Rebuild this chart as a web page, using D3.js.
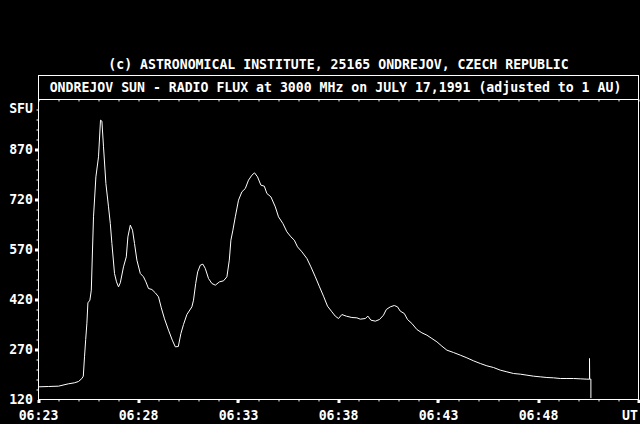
<!DOCTYPE html>
<meta charset='utf-8'>
<style>
    html, body {
        margin: 0;
        background: black;
    }

    svg text {
        fill: white;
        font-family: 'DejaVu Sans Mono', 'Liberation Mono', monospace;
        font-weight: bold;
        font-size: 13.2px;
    }

    .axis path, .axis line {
        stroke: white;
    }
</style>
<title>Ondrejov Sun - Radio Flux 3000 MHz</title>
<body>

<script src='https://d3js.org/d3.v7.min.js'></script>
<script>

	// time in minutes after 06:00 UT, flux in SFU
	let minutes = [
		23.00, 23.49, 24.00, 24.49, 24.79, 25.00, 25.17, 25.24, 25.30, 25.36,
		25.42, 25.47, 25.57, 25.64, 25.75, 25.87, 26.00, 26.10, 26.17, 26.25,
		26.37, 26.50, 26.59, 26.67, 26.80, 26.90, 27.00, 27.09, 27.25, 27.39,
		27.47, 27.59, 27.70, 27.80, 27.92, 28.09, 28.25, 28.37, 28.50, 28.67,
		28.84, 29.00, 29.14, 29.30, 29.50, 29.69, 29.84, 29.99, 30.12, 30.25,
		30.42, 30.67, 30.75, 30.86, 30.96, 31.09, 31.22, 31.34, 31.50, 31.67,
		31.84, 32.05, 32.25, 32.42, 32.54, 32.62, 32.72, 32.84, 33.00, 33.17,
		33.34, 33.50, 33.67, 33.80, 33.95, 34.12, 34.29, 34.42, 34.62, 34.84,
		35.00, 35.22, 35.42, 35.62, 35.79, 35.95, 36.17, 36.42, 36.62, 36.84,
		37.05, 37.25, 37.45, 37.67, 37.84, 38.00, 38.17, 38.39, 38.67, 38.92,
		39.09, 39.34, 39.47, 39.62, 39.84, 40.05, 40.25, 40.39, 40.59, 40.79,
		40.95, 41.09, 41.29, 41.45, 41.67, 41.92, 42.17, 42.42, 42.67, 42.92,
		43.17, 43.42, 43.75, 44.09, 44.42, 44.75, 45.09, 45.42, 45.75, 46.09,
		46.42, 46.75, 47.09, 47.42, 47.75, 48.09, 48.42, 48.75, 49.09, 49.42,
		49.75, 50.09, 50.42, 50.55, 50.55, 50.56, 50.62, 50.62
	];

	let flux = [
		158, 159, 160, 167, 170, 174, 183, 190, 248, 300,
		349, 410, 418, 448, 668, 788, 848, 958, 955, 878,
		768, 698, 648, 588, 498, 473, 458, 470, 518, 548,
		608, 643, 628, 588, 538, 498, 488, 473, 453, 450,
		440, 428, 395, 362, 328, 298, 278, 279, 318, 345,
		375, 398, 418, 468, 503, 523, 526, 513, 483, 468,
		463, 473, 476, 488, 538, 598, 628, 668, 718, 743,
		753, 778, 793, 800, 788, 763, 760, 738, 728, 698,
		668, 648, 623, 608, 598, 578, 563, 543, 518, 488,
		458, 430, 400, 383, 370, 363, 375, 370, 366, 365,
		361, 363, 370, 358, 355, 360, 373, 390, 398, 402,
		398, 385, 378, 360, 348, 330, 320, 313, 303, 293,
		280, 268, 261, 253, 245, 236, 228, 221, 216, 208,
		203, 198, 196, 193, 190, 188, 186, 185, 183, 183,
		183, 182, 181, 181, 243, 181, 181, 124
	];

	let yTicks = [120, 270, 420, 570, 720, 870];
	let xTicks = [23, 28, 33, 38, 43, 48];
	let xTickLabels = ['06:23', '06:28', '06:33', '06:38', '06:43', '06:48'];

	let copyright = '(c) ASTRONOMICAL INSTITUTE, 25165 ONDREJOV, CZECH REPUBLIC';
	let title = 'ONDREJOV SUN - RADIO FLUX at 3000 MHz on JULY 17,1991 (adjusted to 1 AU)';

	let width = 640, height = 424;
	let plotLeft = 38.5, plotRight = 638.5, boxTop = 75.5, plotTop = 99.5, plotBottom = 399.5;

	let x = d3.scaleLinear()
		.domain([23, 53])
		.range([plotLeft, plotRight]);

	let y = d3.scaleLinear()
		.domain([120, 1020])
		.range([plotBottom, plotTop]);

	let svg = d3.select('body').append('svg')
		.attr('width', width)
		.attr('height', height);

	// frame and title box
	svg.append('path')
		.attr('d', 'M' + plotLeft + ',' + boxTop + 'H' + plotRight + 'V' + plotBottom + 'H' + plotLeft + 'Z' +
			'M' + plotLeft + ',' + plotTop + 'H' + plotRight)
		.attr('fill', 'none')
		.attr('stroke', 'white')
		.attr('shape-rendering', 'crispEdges');

	svg.append('text')
		.attr('x', (plotLeft + plotRight) / 2)
		.attr('y', 64)
		.attr('text-anchor', 'middle')
		.attr('dominant-baseline', 'central')
		.text(copyright);

	svg.append('text')
		.attr('x', (plotLeft + plotRight) / 2 - 3)
		.attr('y', 87.5)
		.attr('text-anchor', 'middle')
		.attr('dominant-baseline', 'central')
		.text(title);

	// minor ticks
	let minutesAll = d3.range(23, 54, 1);

	svg.append('g')
		.attr('class', 'axis')
		.attr('transform', 'translate(0,' + plotBottom + ')')
		.call(d3.axisBottom(x).tickValues(minutesAll).tickSize(2).tickSizeOuter(0).tickFormat(''))
		.call(g => g.select('.domain').remove());

	svg.append('g')
		.attr('class', 'axis')
		.attr('transform', 'translate(0,' + plotTop + ')')
		.call(d3.axisBottom(x).tickValues(minutesAll).tickSize(2).tickSizeOuter(0).tickFormat(''))
		.call(g => g.select('.domain').remove());

	svg.append('g')
		.attr('class', 'axis')
		.attr('transform', 'translate(' + plotLeft + ',0)')
		.call(d3.axisLeft(y).tickValues(d3.range(150, 1020, 30)).tickSize(2).tickSizeOuter(0).tickFormat(''))
		.call(g => g.select('.domain').remove());

	// major ticks as small squares
	svg.selectAll('.xmajor')
		.data(xTicks.concat([53]))
		.enter().append('rect')
		.attr('class', 'xmajor')
		.attr('x', d => Math.round(x(d)) - 1.5)
		.attr('y', plotBottom + 0.5)
		.attr('width', 3)
		.attr('height', 3)
		.attr('fill', 'white');

	svg.selectAll('.ymajor')
		.data(yTicks.slice(1))
		.enter().append('rect')
		.attr('class', 'ymajor')
		.attr('x', plotLeft - 3.5)
		.attr('y', d => Math.round(y(d)) - 1.5)
		.attr('width', 3)
		.attr('height', 3)
		.attr('fill', 'white');

	// labels
	svg.selectAll('.ylabel')
		.data(yTicks)
		.enter().append('text')
		.attr('class', 'ylabel')
		.attr('x', 33)
		.attr('y', d => y(d))
		.attr('text-anchor', 'end')
		.attr('dominant-baseline', 'central')
		.text(d => d);

	svg.append('text')
		.attr('x', 33)
		.attr('y', 108)
		.attr('text-anchor', 'end')
		.attr('dominant-baseline', 'central')
		.text('SFU');

	svg.selectAll('.xlabel')
		.data(xTicks)
		.enter().append('text')
		.attr('class', 'xlabel')
		.attr('x', d => x(d))
		.attr('y', 415)
		.attr('text-anchor', 'middle')
		.attr('dominant-baseline', 'central')
		.text((d, i) => xTickLabels[i]);

	svg.append('text')
		.attr('x', 638)
		.attr('y', 415)
		.attr('text-anchor', 'end')
		.attr('dominant-baseline', 'central')
		.text('UT');

	// flux curve
	let points = minutes.map((m, i) => [m, flux[i]]);

	svg.append('path')
		.datum(points)
		.attr('fill', 'none')
		.attr('stroke', 'white')
		.attr('stroke-width', 1)
		.attr('d', d3.line()
			.x(d => x(d[0]))
			.y(d => y(d[1])));

</script>
</body>
